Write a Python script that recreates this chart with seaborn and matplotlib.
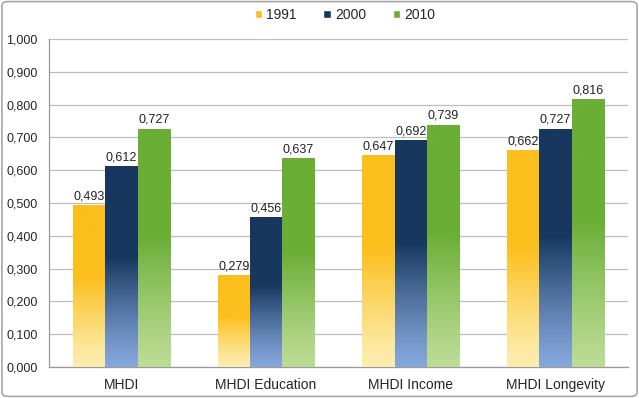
import numpy as np
import pandas as pd
import matplotlib
matplotlib.use("Agg")
import matplotlib.pyplot as plt
import seaborn as sns
from matplotlib.colors import to_rgba
from matplotlib.patches import FancyBboxPatch, Patch

# Data
categories = ["MHDI", "MHDI Education", "MHDI Income", "MHDI Longevity"]
years = ["1991", "2000", "2010"]
v1991 = [0.493, 0.279, 0.647, 0.662]
v2000 = [0.612, 0.456, 0.692, 0.727]
v2010 = [0.727, 0.637, 0.739, 0.816]

df = pd.DataFrame({
    "category": categories * 3,
    "year": [y for y in years for _ in categories],
    "value": v1991 + v2000 + v2010,
})

top_colors = {"1991": "#fcbf1d", "2000": "#17375e", "2010": "#6aae35"}
bottom_colors = {"1991": "#fdeeb0", "2000": "#86a7dc", "2010": "#bcdc95"}

sns.set_style("white")
plt.rcParams["font.family"] = ["Liberation Sans", "DejaVu Sans"]

fig = plt.figure(figsize=(6.39, 3.98), dpi=100)
ax = fig.add_axes([0.0767, 0.078, 0.906, 0.824])

sns.barplot(data=df, x="category", y="value", hue="year", order=categories,
            hue_order=years, palette=top_colors, width=0.67, gap=0,
            linewidth=0, ax=ax, legend=False, zorder=3)

# gradient overlays
for container, yr in zip(ax.containers, years):
    top = np.array(to_rgba(top_colors[yr]))
    bot = np.array(to_rgba(bottom_colors[yr]))
    n = 200
    t = np.linspace(0, 1, n)
    f = np.clip(t / 0.55, 0, 1) ** 1.2
    grad = bot[None, :] * (1 - f[:, None]) + top[None, :] * f[:, None]
    grad = grad[:, None, :]
    for bar, val in zip(container.patches, container.datavalues):
        x0 = bar.get_x()
        w = bar.get_width()
        h = bar.get_height()
        im = ax.imshow(grad, extent=[x0, x0 + w, 0, h], origin="lower",
                       aspect="auto", zorder=4, interpolation="bilinear")
        im.set_clip_path(bar)
        ax.text(x0 + w / 2, h + 0.008, f"{val:.3f}".replace(".", ","),
                ha="center", va="bottom", fontsize=9, color="#222222", zorder=5)

ax.set_xlim(-0.5, 3.5)
ax.set_ylim(0, 1.0)
ax.set_yticks(np.arange(0, 1.01, 0.1))
ax.set_yticklabels([f"{v:.3f}".replace(".", ",") for v in np.arange(0, 1.01, 0.1)],
                   fontsize=9)
ax.set_xticks(range(4))
ax.set_xticklabels(categories, fontsize=10)
ax.set_xticks([0.5, 1.5, 2.5], minor=True)
ax.tick_params(axis="x", which="major", length=0, pad=8)
ax.tick_params(axis="x", which="minor", length=4, color="#999999", direction="out")
ax.tick_params(axis="y", length=5, color="#999999", direction="out", pad=3)
ax.yaxis.grid(True, color="#bdbdbd", linewidth=0.9, zorder=0)
ax.set_axisbelow(True)
ax.set_xlabel("")
ax.set_ylabel("")
for s in ["top", "right"]:
    ax.spines[s].set_visible(False)
for s in ["left", "bottom"]:
    ax.spines[s].set_color("#999999")
    ax.spines[s].set_linewidth(0.9)

handles = [Patch(facecolor=top_colors[y], label=y) for y in years]
fig.legend(handles=handles, loc="center", bbox_to_anchor=(0.54, 0.962), ncol=3,
           frameon=False, fontsize=10, handlelength=0.55, handleheight=0.55,
           handletextpad=0.3, columnspacing=1.9)

border = FancyBboxPatch((0.003, 0.004), 0.994, 0.992, boxstyle="round,pad=0,rounding_size=0.01",
                        transform=fig.transFigure, facecolor="none",
                        edgecolor="#a6a6a6", linewidth=1.2)
fig.patches.append(border)

fig.savefig("out.png", dpi=100)
